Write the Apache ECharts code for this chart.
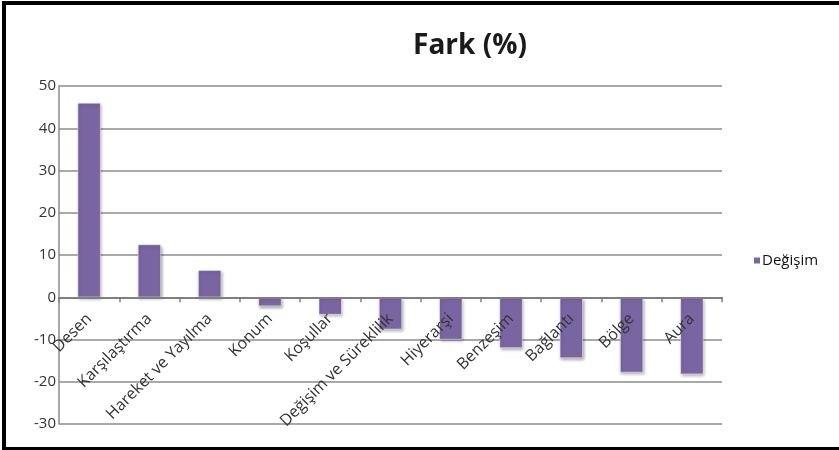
<!DOCTYPE html>
<html>
<head>
<meta charset="utf-8">
<script src="https://cdn.jsdelivr.net/npm/echarts@6/dist/echarts.min.js"></script>
<style>
html,body{margin:0;padding:0;background:#fff;}
#chart{width:839px;height:450px;}
</style>
</head>
<body>
<div id="chart"></div>
<script>
const categories = ['Desen','Karşılaştırma','Hareket ve Yayılma','Konum','Koşullar','Değişim ve Süreklilik','Hiyerarşi','Benzeşim','Bağlantı','Bölge','Aura'];
const values = [46.0, 12.5, 6.4, -2.1, -4.1, -7.6, -10.0, -12.0, -14.4, -17.8, -18.2];
const seriesName = 'Değişim';
const titleText = 'Fark (%)';
const yMin = -30, yMax = 50, yStep = 10;

const gridTop = 86, gridBottom = 26, H = 450;
const plotH = H - gridTop - gridBottom;
const zeroOffset = -(plotH * (0 - yMin) / (yMax - yMin));

const chart = echarts.init(document.getElementById('chart'), null, {renderer:'canvas'});
chart.setOption({
  animation: false,
  backgroundColor: '#fff',
  title: {
    text: titleText,
    left: 465, top: 27,
    textAlign: 'center',
    textStyle: {fontFamily: 'Open Sans', fontWeight: 'bold', fontSize: 28, color: '#1a1a1a'}
  },
  legend: {
    data: [seriesName],
    left: 747, top: 248,
    icon: 'rect', itemWidth: 8, itemHeight: 8,
    textStyle: {fontFamily: 'Open Sans', fontSize: 15, color: '#111', padding: [0,0,0,-4]}
  },
  grid: {left: 59, right: 117, top: gridTop, bottom: gridBottom, containLabel: false, outerBoundsMode: 'none'},
  xAxis: {
    type: 'category',
    data: categories,
    position: 'bottom',
    offset: zeroOffset,
    z: 5,
    axisLine: {onZero: false, lineStyle: {color: '#7f7f7f', width: 2}},
    axisTick: {show: true, length: 5, lineStyle: {color: '#7f7f7f', width: 1.5}},
    axisLabel: {rotate: 45, interval: 0, margin: 19, fontFamily: 'Open Sans', fontSize: 16, color: '#333'},
    splitLine: {show: false}
  },
  yAxis: {
    type: 'value',
    min: yMin, max: yMax, interval: yStep,
    axisLine: {show: true, lineStyle: {color: '#8a8a8a', width: 1.5}},
    axisTick: {show: false},
    axisLabel: {margin: 3, fontFamily: 'Open Sans', fontSize: 15, color: '#333'},
    splitLine: {show: true, lineStyle: {color: '#8c8c8c', width: 1.5}}
  },
  series: [{
    name: seriesName,
    type: 'bar',
    data: values,
    barWidth: 23,
    itemStyle: {color: '#7a65a3', borderColor: '#ffffff', borderWidth: 0.5, shadowColor: 'rgba(0,0,0,0.35)', shadowBlur: 3, shadowOffsetY: 2, shadowOffsetX: 1}
  }],
  graphic: [
    {type: 'rect', shape: {x: 2, y: 1, width: 837, height: 4}, style: {fill: '#000'}},
    {type: 'rect', shape: {x: 2, y: 1, width: 4, height: 449}, style: {fill: '#000'}},
    {type: 'rect', shape: {x: 2, y: 447, width: 837, height: 3}, style: {fill: '#000'}}
  ]
});
</script>
</body>
</html>
